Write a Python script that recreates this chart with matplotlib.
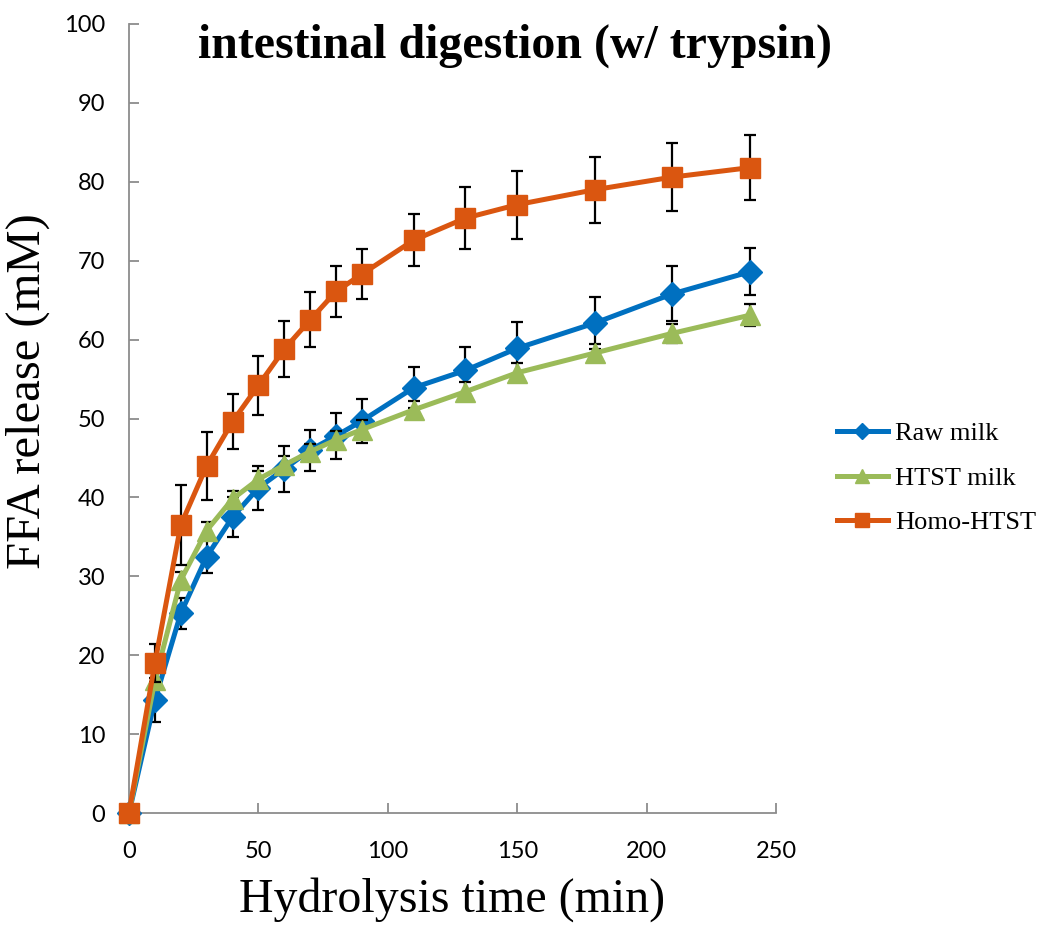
import matplotlib
matplotlib.use("Agg")
import matplotlib.pyplot as plt

# ----------------------------
# Data
# ----------------------------
time_min = [0, 10, 20, 30, 40, 50, 60, 70, 80, 90, 110, 130, 150, 180, 210, 240]

raw_milk = [0, 14.3, 25.3, 32.5, 37.5, 41.2, 43.6, 46.0, 47.8, 49.7, 53.9, 56.1, 58.9, 62.1, 65.8, 68.6]
raw_err = [0, 2.8, 2.0, 2.1, 2.5, 2.8, 2.9, 2.6, 2.9, 2.8, 2.6, 3.0, 3.3, 3.3, 3.5, 3.0]

htst_milk = [0, 16.8, 29.5, 35.8, 39.8, 42.3, 44.1, 45.8, 47.3, 48.6, 51.1, 53.4, 55.8, 58.3, 60.8, 63.1]
htst_err = [0, 1.0, 1.0, 1.1, 1.0, 1.1, 1.1, 1.0, 1.1, 1.2, 1.1, 1.2, 1.2, 1.2, 1.2, 1.4]

homo_htst = [0, 19.0, 36.5, 44.0, 49.6, 54.2, 58.8, 62.5, 66.1, 68.3, 72.6, 75.4, 77.1, 79.0, 80.6, 81.8]
homo_err = [0, 2.4, 5.1, 4.3, 3.5, 3.7, 3.5, 3.5, 3.2, 3.2, 3.3, 3.9, 4.3, 4.2, 4.3, 4.1]

series = [
    ("Raw milk", raw_milk, raw_err, "#0070C0", "D", 12.5),
    ("HTST milk", htst_milk, htst_err, "#9BBB59", "^", 14.5),
    ("Homo-HTST", homo_htst, homo_err, "#DA5610", "s", 14),
]

serif = ["Liberation Serif", "DejaVu Serif"]
tick_font = ["Lato", "DejaVu Sans"]

fig = plt.figure(figsize=(10.38, 9.27), dpi=100)
ax = fig.add_axes([129 / 1038, 1 - 813 / 927, (776 - 129) / 1038, (813 - 24) / 927])

for i, (name, vals, err, color, mk, ms) in enumerate(series):
    ax.errorbar(time_min, vals, yerr=err, fmt="none", ecolor="black",
                elinewidth=1.6, capsize=4.5, capthick=1.6, zorder=2 + 2 * i)
    ax.plot(time_min, vals, color=color, lw=3.6, marker=mk, markersize=ms,
            markeredgecolor=color, label=name, zorder=3 + 2 * i, clip_on=False)

ax.set_xlim(0, 250)
ax.set_ylim(0, 100)
ax.set_xticks(range(0, 251, 50))
ax.set_yticks(range(0, 101, 10))

for s in ["top", "right"]:
    ax.spines[s].set_visible(False)
for s in ["left", "bottom"]:
    ax.spines[s].set_color("#8C8C8C")
    ax.spines[s].set_linewidth(1.3)

ax.tick_params(direction="in", length=7, width=1.3, color="#8C8C8C",
               labelsize=17)
ax.tick_params(axis="x", pad=20)
ax.tick_params(axis="y", pad=17)
for lab in ax.get_xticklabels() + ax.get_yticklabels():
    lab.set_family(tick_font)

ax.set_xlabel("Hydrolysis time (min)", family=serif, fontsize=34.5, labelpad=11)
ax.set_ylabel("FFA release (mM)", family=serif, fontsize=35)
ax.yaxis.set_label_coords(-0.122, 0.535)

fig.text(515 / 1038, 1 - 46 / 927, "intestinal digestion (w/ trypsin)",
         family=serif, fontsize=34.5, fontweight="bold", ha="center", va="center")

leg = fig.legend(loc="center left", bbox_to_anchor=(813 / 1038, 1 - 478 / 927),
                 frameon=False, prop={"family": serif, "size": 19},
                 handlelength=1.95, handletextpad=0.27, labelspacing=0.8,
                 markerscale=0.68)

fig.savefig("out.png", dpi=100)
